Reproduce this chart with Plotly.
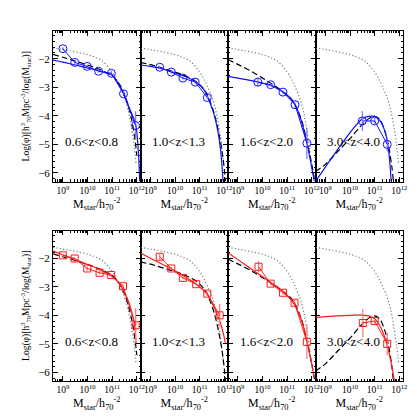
import numpy as np
import plotly.graph_objects as go
from plotly.subplots import make_subplots

# redshift bins
z_labels = ['0.6<z<0.8', '1.0<z<1.3', '1.6<z<2.0', '3.0<z<4.0']

# local mass function (grey dotted, same in every panel)
local_logm = [8.6, 9.0, 9.5, 10.0, 10.3, 10.6, 10.85, 11.1, 11.3, 11.5, 11.65, 11.8, 11.9, 11.97]
local_phi = [-1.62, -1.68, -1.76, -1.86, -1.95, -2.08, -2.3, -2.6, -2.95, -3.35, -3.8, -4.5, -5.1, -5.7]

# model mass functions (black dashed), one per z bin
model_logm_1 = [8.6, 9.0, 9.5, 10.0, 10.5, 11.0, 11.3, 11.5, 11.7, 11.85, 11.95, 12.0]
model_phi_1 = [-1.85, -1.95, -2.08, -2.22, -2.38, -2.6, -2.9, -3.25, -3.8, -4.4, -5.0, -5.4]
model_logm_2 = [8.6, 9.0, 9.5, 10.0, 10.5, 10.9, 11.2, 11.4, 11.6, 11.8, 11.95, 12.05]
model_phi_2 = [-2.13, -2.21, -2.34, -2.47, -2.63, -2.83, -3.1, -3.45, -3.95, -4.7, -5.5, -6.3]
model_logm_3 = [8.6, 9.0, 9.5, 10.0, 10.5, 10.9, 11.2, 11.4, 11.6, 11.8, 12.0, 12.12]
model_phi_3 = [-2.03, -2.2, -2.42, -2.68, -2.95, -3.2, -3.45, -3.75, -4.2, -4.9, -5.7, -6.3]
model_logm_4 = [8.6, 9.0, 9.5, 10.0, 10.5, 10.8, 11.0, 11.2, 11.4, 11.55, 11.7, 11.76]
model_phi_4 = [-5.95, -5.7, -5.25, -4.8, -4.3, -4.08, -4.02, -4.12, -4.5, -5.0, -5.8, -6.3]

# blue sample (top row): measured points
blue_logm_1 = [9.0, 9.48, 9.99, 10.45, 10.97, 11.46, 11.95]
blue_phi_1 = [-1.65, -2.13, -2.27, -2.44, -2.51, -3.23, -4.34]
blue_err_1 = [0.05, 0.05, 0.05, 0.05, 0.06, 0.08, 0.5]
blue_logm_2 = [9.38, 9.85, 10.32, 10.82, 11.31]
blue_phi_2 = [-2.30, -2.47, -2.68, -2.82, -3.36]
blue_err_2 = [0.05, 0.05, 0.05, 0.05, 0.06]
blue_logm_3 = [9.81, 10.33, 10.83, 11.32, 11.8]
blue_phi_3 = [-2.82, -2.91, -3.17, -3.61, -4.96]
blue_err_3 = [0.15, 0.05, 0.06, 0.08, 0.55]
blue_logm_4 = [10.5, 11.0, 11.51]
blue_phi_4 = [-4.18, -4.18, -5.0]
blue_err_4 = [0.35, 0.1, 0.25]

# blue sample: fitted curves
bfit_logm_1 = [8.6, 9.0, 9.5, 10.0, 10.5, 10.8, 11.0, 11.2, 11.46, 11.7, 11.95, 12.05, 12.12]
bfit_phi_1 = [-2.05, -2.12, -2.22, -2.32, -2.43, -2.52, -2.58, -2.8, -3.2, -3.73, -4.3, -5.1, -6.3]
bfit_logm_2 = [8.6, 9.0, 9.5, 10.0, 10.5, 10.9, 11.2, 11.4, 11.6, 11.75, 11.85, 11.95]
bfit_phi_2 = [-2.22, -2.27, -2.36, -2.5, -2.65, -2.85, -3.12, -3.5, -4.0, -4.6, -5.2, -6.3]
bfit_logm_3 = [8.6, 9.0, 9.5, 10.0, 10.5, 10.9, 11.2, 11.4, 11.6, 11.8, 11.95, 12.1]
bfit_phi_3 = [-2.62, -2.68, -2.76, -2.86, -3.0, -3.2, -3.45, -3.75, -4.25, -4.95, -5.6, -6.3]
bfit_logm_4 = [8.6, 10.5, 10.75, 11.0, 11.2, 11.4, 11.55, 11.67]
bfit_phi_4 = [-6.3, -4.1, -4.02, -4.02, -4.15, -4.5, -5.1, -6.3]

# red sample (bottom row): measured points
red_logm_1 = [9.0, 9.48, 9.99, 10.49, 10.96, 11.44, 11.95]
red_phi_1 = [-1.90, -2.01, -2.36, -2.51, -2.59, -2.98, -4.35]
red_err_1 = [0.05, 0.05, 0.08, 0.06, 0.05, 0.08, 0.6]
red_logm_2 = [9.38, 9.85, 10.32, 10.86, 11.31, 11.81]
red_phi_2 = [-1.95, -2.36, -2.69, -2.91, -3.24, -4.0]
red_err_2 = [0.1, 0.05, 0.05, 0.05, 0.06, 0.4]
red_logm_3 = [9.84, 10.33, 10.83, 11.3, 11.8]
red_phi_3 = [-2.30, -2.89, -3.21, -3.56, -4.93]
red_err_3 = [0.2, 0.05, 0.06, 0.1, 0.6]
red_logm_4 = [10.52, 11.0, 11.51]
red_phi_4 = [-4.27, -4.2, -5.0]
red_err_4 = [0.5, 0.08, 0.4]

# red sample: fitted curves
rfit_logm_1 = [8.6, 9.0, 9.5, 10.0, 10.5, 11.0, 11.3, 11.5, 11.7, 11.9, 11.97]
rfit_phi_1 = [-1.75, -1.88, -2.05, -2.22, -2.4, -2.65, -2.9, -3.2, -3.6, -4.3, -5.0]
rfit_logm_2 = [8.6, 9.0, 9.5, 10.0, 10.5, 10.9, 11.3, 11.6, 11.8, 11.95, 12.05]
rfit_phi_2 = [-1.81, -2.0, -2.22, -2.45, -2.7, -2.93, -3.25, -3.75, -4.15, -4.6, -5.0]
rfit_logm_3 = [8.6, 9.0, 9.5, 10.0, 10.5, 10.9, 11.2, 11.4, 11.6, 11.8, 11.95, 12.1]
rfit_phi_3 = [-1.81, -2.05, -2.35, -2.65, -2.95, -3.22, -3.5, -3.8, -4.2, -4.9, -5.5, -6.2]
rfit_logm_4 = [8.6, 9.5, 10.0, 10.5, 10.8, 11.0, 11.2, 11.4, 11.55, 11.7, 11.8]
rfit_phi_4 = [-4.08, -4.02, -4.0, -3.99, -4.03, -4.12, -4.35, -4.75, -5.2, -5.8, -6.3]

model_logm = [model_logm_1, model_logm_2, model_logm_3, model_logm_4]
model_phi = [model_phi_1, model_phi_2, model_phi_3, model_phi_4]
rows = {
    1: dict(color='#1010ff', ecolor='#8080ff', symbol='circle-open', size=8,
            logm=[blue_logm_1, blue_logm_2, blue_logm_3, blue_logm_4],
            phi=[blue_phi_1, blue_phi_2, blue_phi_3, blue_phi_4],
            err=[blue_err_1, blue_err_2, blue_err_3, blue_err_4],
            flogm=[bfit_logm_1, bfit_logm_2, bfit_logm_3, bfit_logm_4],
            fphi=[bfit_phi_1, bfit_phi_2, bfit_phi_3, bfit_phi_4]),
    2: dict(color='#ff1a1a', ecolor='#ff8080', symbol='square-open', size=7,
            logm=[red_logm_1, red_logm_2, red_logm_3, red_logm_4],
            phi=[red_phi_1, red_phi_2, red_phi_3, red_phi_4],
            err=[red_err_1, red_err_2, red_err_3, red_err_4],
            flogm=[rfit_logm_1, rfit_logm_2, rfit_logm_3, rfit_logm_4],
            fphi=[rfit_phi_1, rfit_phi_2, rfit_phi_3, rfit_phi_4]),
}

FONT = 'Liberation Serif'
fig = make_subplots(rows=2, cols=4, horizontal_spacing=0, vertical_spacing=0.14)

for row, s in rows.items():
    for c in range(4):
        col = c + 1
        fig.add_trace(go.Scatter(x=local_logm, y=local_phi, mode='lines', line_shape='spline',
                                 line=dict(color='#7a7a7a', width=1.2, dash='1.2px,2.2px')), row=row, col=col)
        fig.add_trace(go.Scatter(x=model_logm[c], y=model_phi[c], mode='lines', line_shape='spline',
                                 line=dict(color='black', width=1.2, dash='6px,3px')), row=row, col=col)
        fig.add_trace(go.Scatter(x=s['flogm'][c], y=s['fphi'][c], mode='lines', line_shape='spline',
                                 line=dict(color=s['color'], width=1.2)), row=row, col=col)
        fig.add_trace(go.Scatter(x=s['logm'][c], y=s['phi'][c], mode='lines+markers',
                                 line=dict(color=s['color'], width=1),
                                 marker=dict(symbol=s['symbol'], size=s['size'], color=s['color'],
                                             line=dict(width=1)),
                                 error_y=dict(type='data', array=s['err'][c], color=s['ecolor'],
                                              thickness=1.3, width=0)), row=row, col=col)
        fig.add_annotation(x=9.0, y=-4.9, text=z_labels[c], showarrow=False, xanchor='left',
                           font=dict(family=FONT, size=13, color='black'), row=row, col=col)

minor_x = [np.log10(k * 10.0 ** d) for d in range(8, 13) for k in range(2, 10)]
minor_x = [v for v in minor_x if 8.6 <= v <= 12.15]

fig.update_xaxes(range=[8.6, 12.15], tickvals=[9, 10, 11, 12],
                 ticktext=['10<sup>9</sup>', '10<sup>10</sup>', '10<sup>11</sup>', '10<sup>12</sup>'],
                 ticks='inside', ticklen=5, tickwidth=0.9, tickcolor='black',
                 showline=True, linecolor='black', linewidth=0.9, mirror='allticks',
                 showgrid=False, zeroline=False,
                 minor=dict(tickvals=minor_x, ticks='inside', ticklen=2.5, tickwidth=0.7,
                            tickcolor='black', showgrid=False),
                 tickfont=dict(family=FONT, size=9.5, color='black'),
                 title=dict(text='M<sub>star</sub>/h<sub>70</sub><sup>-2</sup>',
                            font=dict(family=FONT, size=12, color='black'), standoff=2))
fig.update_yaxes(range=[-6.3, -1.03], tickvals=[-2, -3, -4, -5, -6],
                 ticks='inside', ticklen=5, tickwidth=0.9, tickcolor='black',
                 showline=True, linecolor='black', linewidth=0.9, mirror='allticks',
                 showgrid=False, zeroline=False, showticklabels=False,
                 minor=dict(dtick=0.2, tick0=0, ticks='inside', ticklen=2, tickwidth=0.7,
                            tickcolor='black', showgrid=False),
                 tickfont=dict(family=FONT, size=11, color='black'))
for row in (1, 2):
    fig.update_yaxes(showticklabels=True, row=row, col=1,
                     title=dict(text='Log(φ)[h<sup>3</sup><sub>70</sub>Mpc<sup>-3</sup>/log(M<sub>star</sub>)]',
                                font=dict(family=FONT, size=9.5, color='black'), standoff=6))

fig.update_layout(width=417, height=417, showlegend=False,
                  margin=dict(l=45, r=22, t=23, b=44),
                  paper_bgcolor='white', plot_bgcolor='white')
fig.write_html('out.html')
